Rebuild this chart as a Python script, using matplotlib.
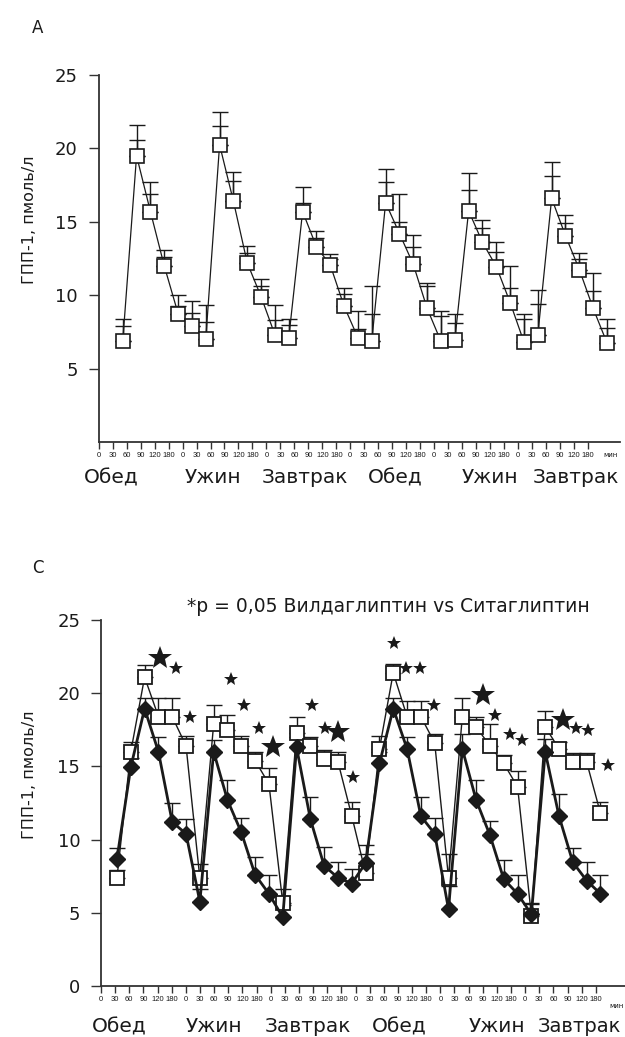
import matplotlib
matplotlib.use("Agg")
from matplotlib import pyplot as plt
import numpy as np

plt.rcParams["font.family"] = ["DejaVu Sans"]

tick_labels = ["0", "30", "60", "90", "120", "180"] * 6
meals = ["Обед", "Ужин", "Завтрак", "Обед", "Ужин", "Завтрак"]

# panel A: one series, two upper error caps per point
top_vals = [6.85, 19.5, 15.7, 12.0, 8.75, 7.9, 7.0, 20.25, 16.4, 12.2, 9.9, 7.3,
            7.1, 15.7, 13.3, 12.05, 9.25, 7.1, 6.9, 16.3, 14.2, 12.1, 9.1, 6.85,
            6.95, 15.75, 13.6, 11.95, 9.5, 6.8, 7.3, 16.6, 14.05, 11.75, 9.1, 6.75]
top_cap_hi = [8.4, 21.6, 17.7, 13.1, 10.0, 9.6, 9.3, 22.5, 18.4, 13.35, 11.1, 9.3,
              8.4, 17.4, 14.4, 12.8, 10.5, 8.9, 10.6, 18.6, 16.9, 14.1, 10.85, 8.9,
              8.75, 18.3, 15.1, 13.6, 12.0, 8.75, 10.35, 19.05, 15.45, 12.85, 11.5, 8.4]
top_cap_lo = [7.9, 20.6, 16.9, 12.6, 9.25, 8.8, 8.2, 21.5, 17.8, 12.9, 10.6, 8.3,
              7.95, 16.3, 13.9, 12.5, 10.05, 7.7, 8.75, 17.7, 15.0, 13.3, 10.6, 8.55,
              8.1, 17.2, 14.55, 12.95, 10.5, 8.4, 9.4, 18.1, 14.95, 12.5, 10.3, 7.75]

# panel C: vildagliptin (squares) vs sitagliptin (diamonds)
vild = [7.4, 16.0, 21.1, 18.4, 18.4, 16.4, 7.35, 17.9, 17.5, 16.4, 15.4, 13.8,
        5.7, 17.3, 16.4, 15.5, 15.3, 11.6, 7.7, 16.2, 21.4, 18.4, 18.4, 16.6,
        7.4, 18.4, 17.7, 16.4, 15.2, 13.6, 4.8, 17.7, 16.2, 15.3, 15.3, 11.8]
vild_cap = [7.9, 16.7, 21.9, 19.7, 19.7, 17.1, 8.3, 19.2, 18.5, 17.1, 16.0, 14.9,
            6.6, 18.4, 17.0, 16.1, 16.0, 12.6, 9.65, 17.1, 22.0, 19.5, 19.5, 17.2,
            9.0, 19.7, 18.4, 17.9, 15.8, 14.7, 5.7, 18.8, 16.7, 15.9, 15.9, 12.6]
sita = [8.7, 14.95, 18.95, 16.0, 11.2, 10.4, 5.75, 16.0, 12.7, 10.5, 7.6, 6.3,
        4.7, 16.3, 11.4, 8.2, 7.4, 7.0, 8.4, 15.2, 18.95, 16.2, 11.6, 10.4,
        5.25, 16.2, 12.7, 10.3, 7.3, 6.3, 4.9, 16.0, 11.6, 8.45, 7.2, 6.3]
sita_cap = [9.4, 15.6, 19.7, 17.0, 12.5, 11.4, 6.6, 16.8, 14.1, 11.5, 8.8, 7.6,
            5.5, 17.0, 12.9, 9.5, 8.45, 8.0, 9.0, 16.0, 19.7, 17.0, 12.9, 11.5,
            6.85, 17.2, 14.1, 11.3, 8.6, 7.6, 5.6, 16.9, 13.1, 9.4, 8.45, 7.6]

# significance stars, x in point-index units
star_big_x = [3.13, 11.33, 16.03, 26.48, 32.3]
star_big_y = [22.4, 16.3, 17.35, 19.9, 18.15]
star_small_x = [4.27, 5.3, 8.27, 9.23, 10.25, 14.15, 15.07, 17.05, 20.06, 20.9,
                21.95, 22.96, 27.37, 28.46, 29.35, 33.24, 34.13, 35.57]
star_small_y = [21.7, 18.4, 20.95, 19.2, 17.6, 19.2, 17.6, 14.3, 23.4, 21.7,
                21.7, 19.2, 18.5, 17.2, 16.8, 17.65, 17.5, 15.1]

W, H = 625, 1037
fig = plt.figure(figsize=(6.25, 10.37), dpi=100)
ink = "#1a1a1a"


def style_axes(ax, yticks, xmax):
    ax.set_xlim(0, xmax)
    ax.set_ylim(0, 25)
    for s in ["top", "right"]:
        ax.spines[s].set_visible(False)
    for s in ["left", "bottom"]:
        ax.spines[s].set_linewidth(1.3)
        ax.spines[s].set_color("#333333")
    ax.set_xticks(np.arange(36))
    ax.set_xticklabels(tick_labels, family=["Liberation Sans", "DejaVu Sans"])
    ax.set_yticks(yticks)
    ax.tick_params(axis="x", length=5, width=1.0, labelsize=5.5, pad=2, colors="#333333",
                   labelcolor=ink)
    ax.tick_params(axis="y", length=7, width=1.0, labelsize=13, pad=8, colors="#333333",
                   labelcolor=ink)


def fig_text(x, y, s, **kw):
    fig.text(x / W, 1 - y / H, s, color=ink, **kw)


# ---- panel A ----
ax1 = fig.add_axes([98.7 / W, 1 - 442 / H, (620 - 98.7) / W, (442 - 75) / H])
x_top = 1.72 + 0.99 * np.arange(len(top_vals))
tv = np.array(top_vals)
for caps in (top_cap_hi, top_cap_lo):
    ax1.errorbar(x_top, tv, yerr=[np.zeros_like(tv), np.array(caps) - tv], fmt="none",
                 ecolor=ink, elinewidth=1.0, capsize=6, capthick=1.0, zorder=2)
ax1.plot(x_top, tv, "-", color=ink, lw=0.9, marker="s", ms=10, mfc="white",
         mec=ink, mew=1.2, zorder=3)
style_axes(ax1, [5, 10, 15, 20, 25], 37.3)

# ---- panel C ----
ax2 = fig.add_axes([101 / W, 1 - 986 / H, (625 - 101) / W, (986 - 620) / H])
x_bot = 1.13 + 0.977 * np.arange(len(vild))
v = np.array(vild)
s = np.array(sita)
ax2.errorbar(x_bot, v, yerr=[np.zeros_like(v), np.array(vild_cap) - v], fmt="none",
             ecolor=ink, elinewidth=1.0, capsize=6, capthick=1.0, zorder=2)
ax2.errorbar(x_bot, s, yerr=[np.zeros_like(s), np.array(sita_cap) - s], fmt="none",
             ecolor=ink, elinewidth=1.0, capsize=6, capthick=1.0, zorder=2)
ax2.plot(x_bot, v, "-", color=ink, lw=1.0, marker="s", ms=10, mfc="white",
         mec=ink, mew=1.3, zorder=3)
ax2.plot(x_bot, s, "-", color=ink, lw=2.0, marker="D", ms=8, mfc=ink,
         mec=ink, zorder=4)
ax2.plot(1.13 + 0.977 * np.array(star_big_x), star_big_y, "*", color=ink, ms=18,
         mew=0, zorder=5)
ax2.plot(1.13 + 0.977 * np.array(star_small_x), star_small_y, "*", color=ink, ms=10,
         mew=0, zorder=5)
style_axes(ax2, [0, 5, 10, 15, 20, 25], 37.06)

# ---- texts ----
fig_text(38, 28, "A", fontsize=12, ha="center", va="center")
fig_text(38, 568, "C", fontsize=12, ha="center", va="center")
fig_text(30, 220, "ГПП-1, пмоль/л", fontsize=11.5, rotation=90, ha="center", va="center")
fig_text(30, 775, "ГПП-1, пмоль/л", fontsize=11.5, rotation=90, ha="center", va="center")
fig_text(388, 607, "*p = 0,05 Вилдаглиптин vs Ситаглиптин", fontsize=13.5,
         ha="center", va="center")
fig_text(610, 455, "мин", fontsize=5, ha="center", va="center")
fig_text(616, 1006, "мин", fontsize=5, ha="center", va="center")

for name, xl in zip(meals, [84, 185, 262, 368, 462, 533]):
    fig_text(xl, 478, name, fontsize=14.5, ha="left", va="center")
for name, xl, fs in zip(meals, [92, 186, 265, 372, 469, 538],
                        [14.5, 14.5, 14.5, 14.5, 14.5, 14]):
    fig_text(xl, 1027, name, fontsize=fs, ha="left", va="center")

fig.savefig("out.png", dpi=100)
